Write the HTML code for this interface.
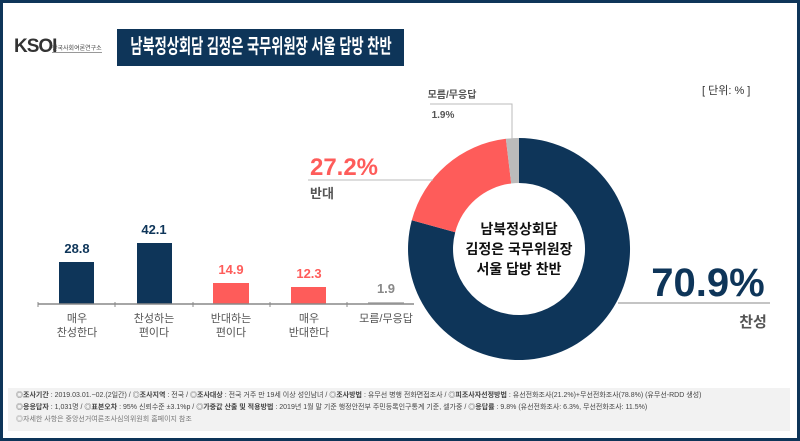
<!DOCTYPE html>
<html><head><meta charset="utf-8"><style>
body{margin:0;width:800px;height:441px;overflow:hidden;background:#fff;font-family:"Liberation Sans","Noto Sans CJK KR",sans-serif;}
.f{position:absolute;left:0;top:0;width:794px;height:435px;border:3px solid #0e3559;}
.a{position:absolute;white-space:nowrap;}
</style></head><body>
<div class="f"></div>
<div class="a" style="left:14px;top:36px;font-size:19px;font-weight:bold;color:#333;letter-spacing:-1px">KSOI</div>
<div class="a" style="left:52px;top:43px;font-size:6px;color:#444;border-bottom:1px solid #999">한국사회여론연구소</div>
<div class="a" style="left:117px;top:29px;width:287px;height:37px;background:#0e3559;overflow:hidden"><span style="display:block;width:420px;margin-left:-66px;text-align:center;transform:scaleX(0.66);color:#fff;font-size:20px;line-height:37px;font-weight:bold">남북정상회담 김정은 국무위원장 서울 답방 찬반</span></div>
<div class="a" style="left:702px;top:82px;font-size:11px;color:#333">[ 단위: % ]</div>
<svg class="a" style="left:0;top:0" width="800" height="441">
<g font-family="Liberation Sans,Noto Sans CJK KR,sans-serif" text-anchor="middle">
<rect x="59" y="262" width="35" height="42" fill="#0e3559"/>
<rect x="137" y="243" width="35" height="61" fill="#0e3559"/>
<rect x="213" y="283" width="36" height="21" fill="#fe5c5a"/>
<rect x="291" y="287" width="35" height="17" fill="#fe5c5a"/>
<rect x="368" y="302" width="36" height="2" fill="#bbb"/>
<line x1="38" y1="304" x2="414" y2="304" stroke="#888" stroke-width="1.5"/>
<g stroke="#888"><line x1="38" y1="302" x2="38" y2="307"/><line x1="115" y1="302" x2="115" y2="307"/><line x1="193" y1="302" x2="193" y2="307"/><line x1="270" y1="302" x2="270" y2="307"/><line x1="347" y1="302" x2="347" y2="307"/></g>
<g font-size="13" font-weight="bold"><text x="77" y="253" fill="#0e3559">28.8</text><text x="154" y="234" fill="#0e3559">42.1</text><text x="231" y="274" fill="#fe5c5a">14.9</text><text x="309" y="278" fill="#fe5c5a">12.3</text><text x="386" y="293" fill="#888">1.9</text></g>
<g font-size="11" fill="#555"><text x="77" y="322">매우</text><text x="77" y="336">찬성한다</text><text x="154" y="322">찬성하는</text><text x="154" y="336">편이다</text><text x="231" y="322">반대하는</text><text x="231" y="336">편이다</text><text x="309" y="322">매우</text><text x="309" y="336">반대한다</text><text x="386" y="322">모름/무응답</text></g>
<path d="M519,138 A111,111 0 1 1 411.8,220.3 L455.2,232.2 A66,66 0 1 0 519,183 Z" fill="#0e3559"/>
<path d="M411.8,220.3 A111,111 0 0 1 505.9,138.8 L511.2,183.5 A66,66 0 0 0 455.2,232.2 Z" fill="#fe5c5a"/>
<path d="M505.9,138.8 A111,111 0 0 1 519,138 L519,183 A66,66 0 0 0 511.2,183.5 Z" fill="#bbb"/>
<polyline points="308,180 432,180 432,181" fill="none" stroke="#bbb"/>
<polyline points="430,104 512,104 512,140" fill="none" stroke="#bbb"/>
<line x1="618" y1="303" x2="770" y2="303" stroke="#888"/>
<g font-weight="bold" fill="#111" font-size="14"><text x="519" y="234">남북정상회담</text><text x="519" y="254">김정은 국무위원장</text><text x="519" y="274">서울 답방 찬반</text></g>
<text x="344" y="175" font-size="24" font-weight="bold" fill="#fe5c5a">27.2%</text>
<text x="322" y="198" font-size="13" font-weight="bold" fill="#555">반대</text>
<text x="708" y="296" font-size="40" font-weight="bold" fill="#0e3559">70.9%</text>
<text x="753" y="327" font-size="15" font-weight="bold" fill="#555">찬성</text>
<text x="452" y="98" font-size="10" font-weight="bold" fill="#555">모름/무응답</text>
<text x="443" y="118" font-size="10" font-weight="bold" fill="#555">1.9%</text>
</g></svg>
<div class="a" style="left:8px;top:388px;width:782px;height:43px;background:#f2f2f2;font-size:7px;color:#444;line-height:12px;padding:2px 8px;box-sizing:border-box">
<div>◎<b>조사기간</b> : 2019.03.01.~02.(2일간) / ◎<b>조사지역</b> : 전국 / ◎<b>조사대상</b> : 전국 거주 만 19세 이상 성인남녀 / ◎<b>조사방법</b> : 유무선 병행 전화면접조사 / ◎<b>피조사자선정방법</b> : 유선전화조사(21.2%)+무선전화조사(78.8%) (유무선-RDD 생성)</div>
<div>◎<b>응응답자</b> : 1,031명 / ◎<b>표본오차</b> : 95% 신뢰수준 ±3.1%p / ◎<b>가중값 산출 및 적용방법</b> : 2019년 1월 말 기준 행정안전부 주민등록인구통계 기준, 셀가중 / ◎<b>응답률</b> : 9.8% (유선전화조사: 6.3%, 무선전화조사: 11.5%)</div>
<div style="color:#777">◎자세한 사항은 중앙선거여론조사심의위원회 홈페이지 참조</div>
</div>
</body></html>
